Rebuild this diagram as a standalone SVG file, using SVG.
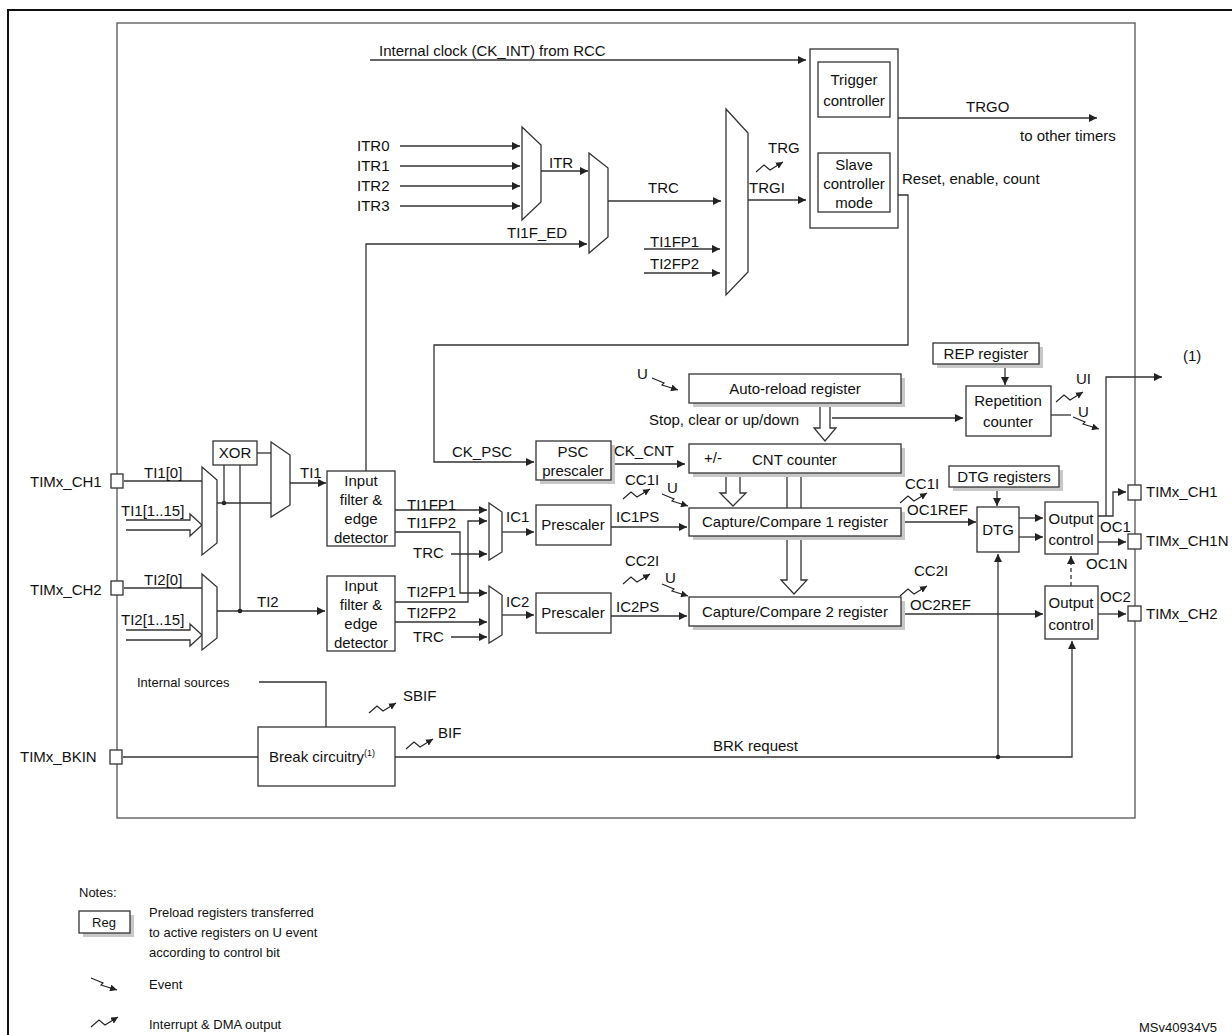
<svg xmlns="http://www.w3.org/2000/svg" xmlns:xlink="http://www.w3.org/1999/xlink" width="1232" height="1035" viewBox="0 0 1232 1035">
<style>
text{font-family:"Liberation Sans",Arial,sans-serif;font-size:15px;fill:#111}
.n{font-size:13px}
.c{text-anchor:middle}
.b{fill:#fff;stroke:#333;stroke-width:1.3}
.sh{fill:#c8c8c8}
.l{fill:none;stroke:#333;stroke-width:1.3}
.la{fill:none;stroke:#333;stroke-width:1.3;marker-end:url(#a)}
.ic{fill:none;stroke:#222;stroke-width:1.1;marker-end:url(#s)}
</style>
<defs>
<marker id="a" viewBox="0 0 10 10" refX="10" refY="5" markerWidth="8" markerHeight="8" markerUnits="userSpaceOnUse" orient="auto"><path d="M0,0 L10,5 L0,10 z" fill="#222"/></marker>
<marker id="s" viewBox="0 0 10 10" refX="10" refY="5" markerWidth="7" markerHeight="7" markerUnits="userSpaceOnUse" orient="auto"><path d="M0,0 L10,5 L0,10 z" fill="#222"/></marker>
<path id="ev" d="M0,0 L12,5 L10,7 L26,12"/>
<path id="it" d="M0,9 L8,2 L14,7 L27,-1"/>
</defs>
<rect width="1232" height="1035" fill="#fff"/>
<path d="M8,1035 V10 H1232" fill="none" stroke="#111" stroke-width="2"/>
<rect x="117" y="23" width="1018" height="795" fill="none" stroke="#555" stroke-width="1.3"/>

<g id="connectors">
<path class="la" d="M370,60 H806"/>
<path class="la" d="M400,146 H520"/><path class="la" d="M400,166 H520"/><path class="la" d="M400,186 H520"/><path class="la" d="M400,206 H520"/>
<path class="la" d="M541,171 H588"/>
<path class="la" d="M366,471 V244 H587"/>
<path class="la" d="M608,201 H721"/>
<path class="la" d="M644,249 H720"/><path class="la" d="M644,273 H720"/>
<path class="la" d="M748,200 H806"/>
<path class="la" d="M898,118 H1097"/>
<path class="la" d="M890,195 H908 V345 H434 V462 H534"/>
<path class="la" d="M611,464 H685"/>
<path class="la" d="M832,418 H963"/>
<path class="la" d="M1005,364 V385"/>
<path class="l" d="M1051,415 H1071"/>
<path class="la" d="M1098,516 H1113 V492 H1126"/>
<path class="la" d="M1106,516 V377 H1162"/>
<path class="la" d="M1098,542 H1126"/>
<path class="la" d="M997,487 V506"/>
<path class="la" d="M901,522 H976"/>
<path class="la" d="M1019,518 H1043"/><path class="la" d="M1019,537 H1043"/>
<path class="la" d="M901,614 H1043"/>
<path class="la" d="M1098,614 H1126"/>
<path class="la" d="M1071,586 V556" stroke-dasharray="4,3"/>
<path class="l" d="M123,757 H258"/>
<path class="la" d="M395,757 H1072 V641"/>
<path class="la" d="M998,757 V554"/>
<circle cx="998" cy="757" r="2.3" fill="#222"/>
<path class="l" d="M259,682 H326 V727"/>
<path class="l" d="M124,481 H202"/><path class="l" d="M124,588 H202"/>
<path class="l" d="M217,503 H271"/><circle cx="224" cy="503" r="2.3" fill="#222"/>
<path class="l" d="M224,465 V503"/><path class="l" d="M240,465 V611"/>
<path class="la" d="M217,611 H325"/><circle cx="240" cy="611" r="2.3" fill="#222"/>
<path class="l" d="M257,453 H271"/>
<path class="la" d="M290,483 H326"/>
<path class="la" d="M395,510 H487"/>
<path class="la" d="M395,532 H460 V593 H487"/>
<path class="la" d="M395,602 H468 V521 H487"/>
<path class="la" d="M451,554 H487"/>
<path class="la" d="M395,622 H487"/>
<path class="la" d="M451,637 H487"/>
<path class="la" d="M502,532 H534"/><path class="la" d="M502,615 H534"/>
<path class="la" d="M611,527 H687"/><path class="la" d="M611,616 H687"/>
<path class="b" d="M820,403 V428 H814 L825,441 L836,428 H830 V403"/>
<path class="b" d="M726,473 V493 H720 L733,506 L746,493 H740 V473"/>
<path class="l" d="M787,473 V508 M801,473 V508"/>
<path class="b" d="M787,536 V580 H781 L794,594 L807,580 H801 V536"/>
<path class="b" d="M126,520 H190 V514 L202,525 L190,536 V530 H126"/>
<path class="b" d="M126,630 H190 V624 L202,635 L190,646 V640 H126"/>
<use xlink:href="#it" class="ic" x="756" y="163"/>
<use xlink:href="#ev" class="ic" x="652" y="378"/>
<use xlink:href="#it" class="ic" x="1056" y="393"/>
<use xlink:href="#ev" class="ic" x="1073" y="417"/>
<use xlink:href="#it" class="ic" x="623" y="490"/>
<use xlink:href="#ev" class="ic" x="662" y="494"/>
<use xlink:href="#it" class="ic" x="900" y="494"/>
<use xlink:href="#it" class="ic" x="623" y="575"/>
<use xlink:href="#ev" class="ic" x="662" y="584"/>
<use xlink:href="#it" class="ic" x="900" y="587"/>
<use xlink:href="#it" class="ic" x="369" y="704"/>
<use xlink:href="#it" class="ic" x="406" y="740"/>
<use xlink:href="#ev" class="ic" x="91" y="978"/>
<use xlink:href="#it" class="ic" x="91" y="1018"/>
</g>

<g id="trigslave"><rect class="b" x="810" y="49" width="88" height="179"/></g>
<g id="trigger"><rect class="b" x="818" y="62" width="72" height="55"/><text class="c" x="854" y="85">Trigger</text><text class="c" x="854" y="106">controller</text></g>
<g id="slave"><rect class="b" x="818" y="153" width="72" height="59"/><text class="c" x="854" y="170">Slave</text><text class="c" x="854" y="189">controller</text><text class="c" x="854" y="208">mode</text></g>

<g id="mux-itr"><polygon class="b" points="522,127 541,145 541,202 522,220"/></g>
<g id="mux-trc"><polygon class="b" points="589,153 608,168 608,237 589,253"/></g>
<g id="mux-trgi"><polygon class="b" points="726,109 748,133 748,272 726,295"/></g>
<g id="mux-ti1"><polygon class="b" points="202,467 217,480 217,543 202,555"/></g>
<g id="mux-xor"><polygon class="b" points="271,442 290,455 290,505 271,517"/></g>
<g id="mux-ti2"><polygon class="b" points="202,574 217,587 217,638 202,650"/></g>
<g id="mux-ic1"><polygon class="b" points="489,503 502,512 502,552 489,560"/></g>
<g id="mux-ic2"><polygon class="b" points="489,586 502,595 502,635 489,643"/></g>

<g id="xor"><rect class="b" x="213" y="441" width="44" height="24"/><text class="c" x="235" y="458">XOR</text></g>
<g id="filter1"><rect class="b" x="327" y="471" width="68" height="75"/><text class="c" x="361" y="486">Input</text><text class="c" x="361" y="505">filter &amp;</text><text class="c" x="361" y="524">edge</text><text class="c" x="361" y="543">detector</text></g>
<g id="filter2"><rect class="b" x="327" y="576" width="68" height="75"/><text class="c" x="361" y="591">Input</text><text class="c" x="361" y="610">filter &amp;</text><text class="c" x="361" y="629">edge</text><text class="c" x="361" y="648">detector</text></g>
<g id="psc"><rect class="sh" x="540" y="445" width="75" height="39"/><rect class="b" x="536" y="441" width="75" height="39"/><text class="c" x="573" y="457">PSC</text><text class="c" x="573" y="476">prescaler</text></g>
<g id="presc1"><rect class="b" x="536" y="505" width="75" height="40"/><text class="c" x="573" y="530">Prescaler</text></g>
<g id="presc2"><rect class="b" x="536" y="593" width="75" height="40"/><text class="c" x="573" y="618">Prescaler</text></g>
<g id="arr"><rect class="sh" x="693" y="378" width="212" height="29"/><rect class="b" x="689" y="374" width="212" height="29"/><text class="c" x="795" y="394">Auto-reload register</text></g>
<g id="cnt"><rect class="sh" x="693" y="448" width="212" height="29"/><rect class="b" x="689" y="444" width="212" height="29"/><text x="704" y="463">+/-</text><text x="752" y="465">CNT counter</text></g>
<g id="cc1"><rect class="sh" x="693" y="512" width="212" height="28"/><rect class="b" x="689" y="508" width="212" height="28"/><text class="c" x="795" y="527">Capture/Compare 1 register</text></g>
<g id="cc2"><rect class="sh" x="693" y="601" width="212" height="29"/><rect class="b" x="689" y="597" width="212" height="29"/><text class="c" x="795" y="617">Capture/Compare 2 register</text></g>
<g id="rep"><rect class="sh" x="937" y="347" width="106" height="21"/><rect class="b" x="933" y="343" width="106" height="21"/><text class="c" x="986" y="359">REP register</text></g>
<g id="repcnt"><rect class="b" x="966" y="386" width="85" height="50"/><text class="c" x="1008" y="406">Repetition</text><text class="c" x="1008" y="427">counter</text></g>
<g id="dtgreg"><rect class="sh" x="953" y="470" width="110" height="21"/><rect class="b" x="949" y="466" width="110" height="21"/><text class="c" x="1004" y="482">DTG registers</text></g>
<g id="dtg"><rect class="b" x="977" y="507" width="42" height="45"/><text class="c" x="998" y="535">DTG</text></g>
<g id="oc1"><rect class="b" x="1045" y="502" width="53" height="52"/><text class="c" x="1071" y="524">Output</text><text class="c" x="1071" y="545">control</text></g>
<g id="oc2"><rect class="b" x="1045" y="586" width="53" height="53"/><text class="c" x="1071" y="608">Output</text><text class="c" x="1071" y="630">control</text></g>
<g id="brk"><rect class="b" x="258" y="727" width="137" height="59"/><text class="c" x="322" y="762">Break circuitry<tspan font-size="9" dy="-6">(1)</tspan></text></g>
<g id="pins">
<rect class="b" x="111" y="474" width="12" height="14"/>
<rect class="b" x="111" y="581" width="12" height="14"/>
<rect class="b" x="110" y="750" width="12" height="14"/>
<rect class="b" x="1128" y="485" width="13" height="15"/>
<rect class="b" x="1128" y="534" width="13" height="15"/>
<rect class="b" x="1128" y="606" width="13" height="15"/>
</g>

<g id="labels">
<text x="379" y="56">Internal clock (CK_INT) from RCC</text>
<text x="357" y="151">ITR0</text><text x="357" y="171">ITR1</text><text x="357" y="191">ITR2</text><text x="357" y="211">ITR3</text>
<text x="549" y="168">ITR</text>
<text x="507" y="238">TI1F_ED</text>
<text x="648" y="193">TRC</text>
<text x="650" y="247">TI1FP1</text><text x="650" y="269">TI2FP2</text>
<text x="768" y="153">TRG</text>
<text x="749" y="193">TRGI</text>
<text x="966" y="112">TRGO</text>
<text x="1020" y="141">to other timers</text>
<text x="902" y="184">Reset, enable, count</text>
<text x="1183" y="361">(1)</text>
<text x="637" y="379">U</text>
<text x="649" y="425">Stop, clear or up/down</text>
<text x="452" y="457">CK_PSC</text>
<text x="614" y="456">CK_CNT</text>
<text x="625" y="485">CC1I</text><text x="667" y="493">U</text>
<text x="616" y="522">IC1PS</text>
<text x="625" y="566">CC2I</text><text x="665" y="583">U</text>
<text x="616" y="612">IC2PS</text>
<text x="905" y="489">CC1I</text>
<text x="907" y="515">OC1REF</text>
<text x="914" y="576">CC2I</text>
<text x="910" y="610">OC2REF</text>
<text x="1076" y="384">UI</text><text x="1078" y="417">U</text>
<text x="1100" y="532">OC1</text>
<text x="1086" y="569">OC1N</text>
<text x="1100" y="602">OC2</text>
<text x="1146" y="497">TIMx_CH1</text>
<text x="1146" y="546">TIMx_CH1N</text>
<text x="1146" y="619">TIMx_CH2</text>
<text x="30" y="487">TIMx_CH1</text>
<text x="30" y="595">TIMx_CH2</text>
<text x="20" y="762">TIMx_BKIN</text>
<text x="144" y="478">TI1[0]</text>
<text x="121" y="516">TI1[1..15]</text>
<text x="300" y="478">TI1</text>
<text x="144" y="585">TI2[0]</text>
<text x="121" y="625">TI2[1..15]</text>
<text x="257" y="607">TI2</text>
<text x="407" y="510">TI1FP1</text><text x="407" y="528">TI1FP2</text>
<text x="413" y="558">TRC</text>
<text x="407" y="597">TI2FP1</text><text x="407" y="618">TI2FP2</text>
<text x="413" y="642">TRC</text>
<text x="506" y="522">IC1</text><text x="506" y="607">IC2</text>
<text x="137" y="687" class="n">Internal sources</text>
<text x="403" y="701">SBIF</text>
<text x="438" y="738">BIF</text>
<text x="713" y="751">BRK request</text>
<text x="79" y="897" class="n">Notes:</text>
<text x="149" y="917" class="n">Preload registers transferred</text>
<text x="149" y="937" class="n">to active registers on U event</text>
<text x="149" y="957" class="n">according to control bit</text>
<text x="149" y="989" class="n">Event</text>
<text x="149" y="1029" class="n">Interrupt &amp; DMA output</text>
<text x="1139" y="1032" class="n">MSv40934V5</text>
</g>
<g id="legend-reg"><rect class="sh" x="83" y="915" width="51" height="22"/><rect class="b" x="79" y="911" width="51" height="22"/><text class="c n" x="104" y="927">Reg</text></g>
</svg>
